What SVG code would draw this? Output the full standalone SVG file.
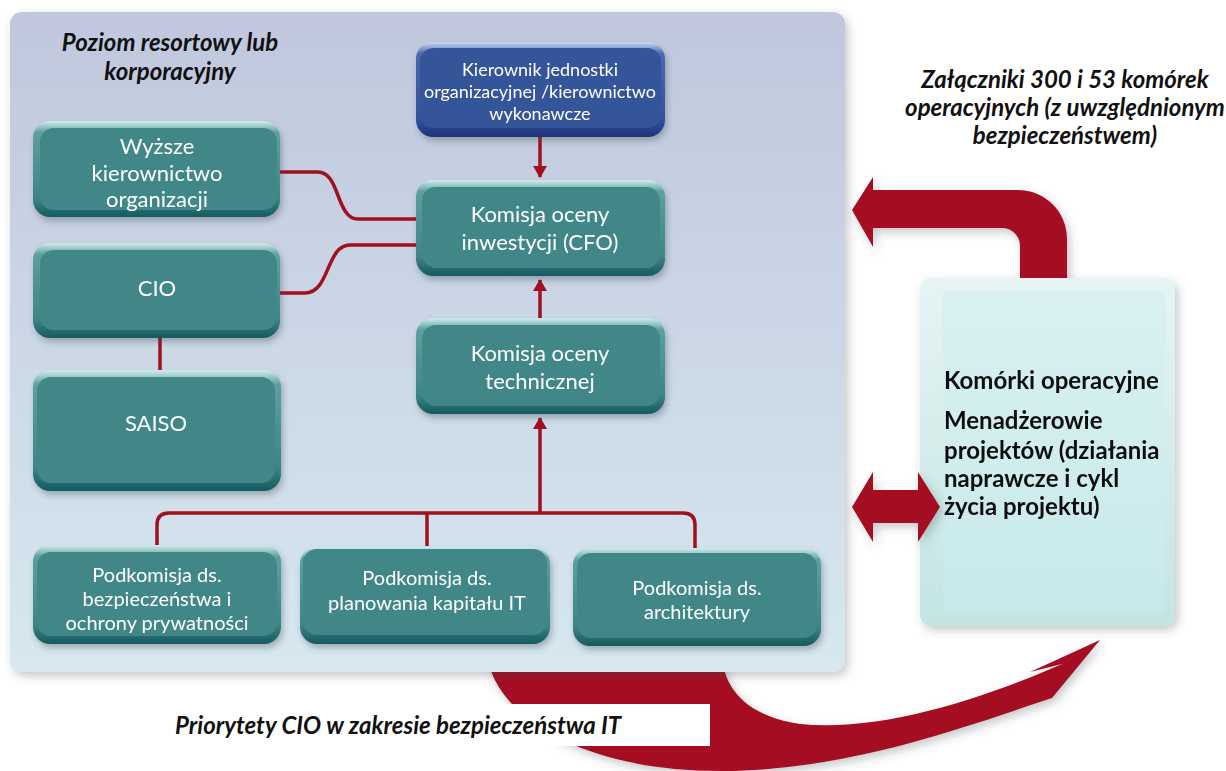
<svg xmlns="http://www.w3.org/2000/svg" width="1226" height="771" viewBox="0 0 1226 771">
  <defs>
    <linearGradient id="panelGrad" x1="0" y1="0" x2="0" y2="1">
      <stop offset="0" stop-color="#c0c7dd"/>
      <stop offset="1" stop-color="#d7e8ef"/>
    </linearGradient>
    <linearGradient id="tealRim" x1="0" y1="0" x2="0" y2="1">
      <stop offset="0" stop-color="#d2ecec"/>
      <stop offset="0.12" stop-color="#5d9f9f"/>
      <stop offset="0.8" stop-color="#3f8585"/>
      <stop offset="1" stop-color="#145a60"/>
    </linearGradient>
    <linearGradient id="blueRim" x1="0" y1="0" x2="0" y2="1">
      <stop offset="0" stop-color="#cfdcf2"/>
      <stop offset="0.12" stop-color="#4a68ad"/>
      <stop offset="0.8" stop-color="#35529a"/>
      <stop offset="1" stop-color="#1c3478"/>
    </linearGradient>
    <linearGradient id="opsGrad" x1="0" y1="0" x2="0" y2="1">
      <stop offset="0" stop-color="#e6f4f4"/>
      <stop offset="1" stop-color="#c3e5e2"/>
    </linearGradient>
    <linearGradient id="opsInner" x1="0" y1="0" x2="0" y2="1">
      <stop offset="0" stop-color="#d9f1f1"/>
      <stop offset="1" stop-color="#c8e9ec"/>
    </linearGradient>
    <filter id="shadow" x="-10%" y="-10%" width="130%" height="130%">
      <feDropShadow dx="2" dy="4" stdDeviation="3" flood-color="#30404a" flood-opacity="0.35"/>
    </filter>
    <filter id="softShadow" x="-10%" y="-10%" width="130%" height="130%">
      <feDropShadow dx="3" dy="4" stdDeviation="5" flood-color="#404850" flood-opacity="0.3"/>
    </filter>
    <marker id="head" viewBox="0 0 12 14" refX="11" refY="7" markerWidth="12" markerHeight="14" markerUnits="userSpaceOnUse" orient="auto">
      <path d="M0,0 L12,7 L0,14 Z" fill="#a0101e"/>
    </marker>
    <style>
      .face { fill: #428787; }
      .blueface { fill: #36549b; }
      .lbl { font-family: Lato, "Open Sans", sans-serif; fill: #ffffff; text-anchor: middle; }
      .big { font-size: 22px; }
      .mid { font-size: 18px; }
      .sub { font-size: 20px; }
      .cap { font-family: Lato, "Open Sans", sans-serif; font-weight: bold; font-style: italic; fill: #111111; font-size: 24px; }
      .ops { font-family: Lato, "Open Sans", sans-serif; font-weight: bold; fill: #111111; font-size: 24px; }
      .wire { fill: none; stroke: #a0101e; stroke-width: 3.5; }
      .bigArrow { fill: #a50d20; }
    </style>
  </defs>

  <rect width="1226" height="771" fill="#ffffff"/>

  <!-- bottom sweeping arrow, drawn first so the panel sits on top of it -->
  <path class="bigArrow" filter="url(#softShadow)"
        d="M488,660 C498,715 580,771 720,771 C850,771 970,725 1052,698 L1100,640 L1030,672 L1062,664 C980,700 880,732 800,724 C760,718 728,700 722,660 Z"/>

  <!-- department-level panel -->
  <rect x="10" y="12" width="835" height="660" rx="12" fill="url(#panelGrad)" filter="url(#softShadow)"/>
  <text class="cap" x="170" y="51" text-anchor="middle">Poziom resortowy lub</text>
  <text class="cap" x="170" y="80" text-anchor="middle">korporacyjny</text>

  <!-- connectors -->
  <g id="connectors">
    <path class="wire" d="M280,172 H318 C340,172 336,219 358,219 H416"/>
    <path class="wire" d="M280,293 H305 C330,293 326,245 350,245 H416"/>
    <path class="wire" d="M160,337 V370"/>
    <path class="wire" d="M540,136 V177" marker-end="url(#head)"/>
    <path class="wire" d="M540,318 V280" marker-end="url(#head)"/>
    <path class="wire" d="M540,513 V418" marker-end="url(#head)"/>
    <path class="wire" d="M157,547 V525 Q157,513 169,513 H683 Q695,513 695,525 V549"/>
    <path class="wire" d="M427,513 V546"/>
  </g>

  <!-- nodes -->
  <g id="node-wyzsze" filter="url(#shadow)">
    <rect x="33" y="121" width="247" height="96" rx="17" fill="url(#tealRim)"/>
    <rect x="40" y="128" width="237" height="82" rx="14" class="face"/>
    <text class="lbl big" x="157" y="154">Wyższe</text>
    <text class="lbl big" x="157" y="181">kierownictwo</text>
    <text class="lbl big" x="157" y="207">organizacji</text>
  </g>

  <g id="node-cio" filter="url(#shadow)">
    <rect x="33" y="243" width="247" height="95" rx="17" fill="url(#tealRim)"/>
    <rect x="40" y="250" width="237" height="80" rx="14" class="face"/>
    <text class="lbl big" x="157" y="296">CIO</text>
  </g>

  <g id="node-saiso" filter="url(#shadow)">
    <rect x="33" y="370" width="248" height="121" rx="17" fill="url(#tealRim)"/>
    <rect x="37" y="377" width="238" height="106" rx="14" class="face"/>
    <text class="lbl big" x="156" y="431">SAISO</text>
  </g>

  <g id="node-kierownik" filter="url(#shadow)">
    <rect x="416" y="42" width="249" height="95" rx="17" fill="url(#blueRim)"/>
    <rect x="420" y="48" width="241" height="80" rx="14" class="blueface"/>
    <text class="lbl mid" x="540" y="76">Kierownik jednostki</text>
    <text class="lbl mid" x="540" y="98">organizacyjnej /kierownictwo</text>
    <text class="lbl mid" x="540" y="120">wykonawcze</text>
  </g>

  <g id="node-cfo" filter="url(#shadow)">
    <rect x="416" y="180" width="249" height="96" rx="17" fill="url(#tealRim)"/>
    <rect x="422" y="187" width="238" height="81" rx="14" class="face"/>
    <text class="lbl big" x="540" y="222">Komisja oceny</text>
    <text class="lbl big" x="540" y="250">inwestycji (CFO)</text>
  </g>

  <g id="node-techniczna" filter="url(#shadow)">
    <rect x="416" y="318" width="249" height="96" rx="17" fill="url(#tealRim)"/>
    <rect x="422" y="325" width="238" height="81" rx="14" class="face"/>
    <text class="lbl big" x="540" y="361">Komisja oceny</text>
    <text class="lbl big" x="540" y="389">technicznej</text>
  </g>

  <g id="node-pod-bezpieczenstwo" filter="url(#shadow)">
    <rect x="33" y="545" width="248" height="99" rx="17" fill="url(#tealRim)"/>
    <rect x="37" y="552" width="240" height="84" rx="14" class="face"/>
    <text class="lbl sub" x="157" y="582">Podkomisja ds.</text>
    <text class="lbl sub" x="157" y="606">bezpieczeństwa i</text>
    <text class="lbl sub" x="157" y="630">ochrony prywatności</text>
  </g>

  <g id="node-pod-planowanie" filter="url(#shadow)">
    <rect x="300" y="547" width="250" height="97" rx="17" fill="url(#tealRim)"/>
    <rect x="303" y="549" width="244" height="86" rx="14" class="face"/>
    <text class="lbl sub" x="427" y="585">Podkomisja ds.</text>
    <text class="lbl sub" x="427" y="610">planowania kapitału IT</text>
  </g>

  <g id="node-pod-architektura" filter="url(#shadow)">
    <rect x="573" y="548" width="248" height="98" rx="17" fill="url(#tealRim)"/>
    <rect x="577" y="553" width="240" height="85" rx="14" class="face"/>
    <text class="lbl sub" x="697" y="595">Podkomisja ds.</text>
    <text class="lbl sub" x="697" y="619">architektury</text>
  </g>

  <!-- top arrow from the operational units back to the panel -->
  <path class="bigArrow" filter="url(#softShadow)"
        d="M873,190 H1018 A49,49 0 0 1 1067,239 V282 H1020 V246 A18,18 0 0 0 1002,228 H873 V247 L852,210 L873,177 Z"/>

  <!-- operational units -->
  <g id="node-komorki" filter="url(#softShadow)">
    <rect x="920" y="278" width="255" height="348" rx="11" fill="url(#opsGrad)"/>
    <rect x="943" y="291" width="222" height="321" fill="url(#opsInner)"/>
    <text class="ops" x="944" y="389">Komórki operacyjne</text>
    <text class="ops" x="944" y="429">Menadżerowie</text>
    <text class="ops" x="944" y="459">projektów (działania</text>
    <text class="ops" x="944" y="487">naprawcze i cykl</text>
    <text class="ops" x="944" y="515">życia projektu)</text>
  </g>

  <!-- two-way arrow between panel and operational units -->
  <path class="bigArrow" filter="url(#softShadow)"
        d="M852,507 L873,472 V490 H918 V472 L940,507 L918,542 V523 H873 V542 Z"/>

  <text class="cap" x="1065" y="88" text-anchor="middle">Załączniki 300 i 53 komórek</text>
  <text class="cap" x="1065" y="116" text-anchor="middle">operacyjnych (z uwzględnionym</text>
  <text class="cap" x="1065" y="144" text-anchor="middle">bezpieczeństwem)</text>

  <!-- caption on a white band over the bottom arrow -->
  <rect x="160" y="704" width="550" height="42" fill="#ffffff"/>
  <text class="cap" x="175" y="734" font-size="22.5">Priorytety CIO w zakresie bezpieczeństwa IT</text>
</svg>
